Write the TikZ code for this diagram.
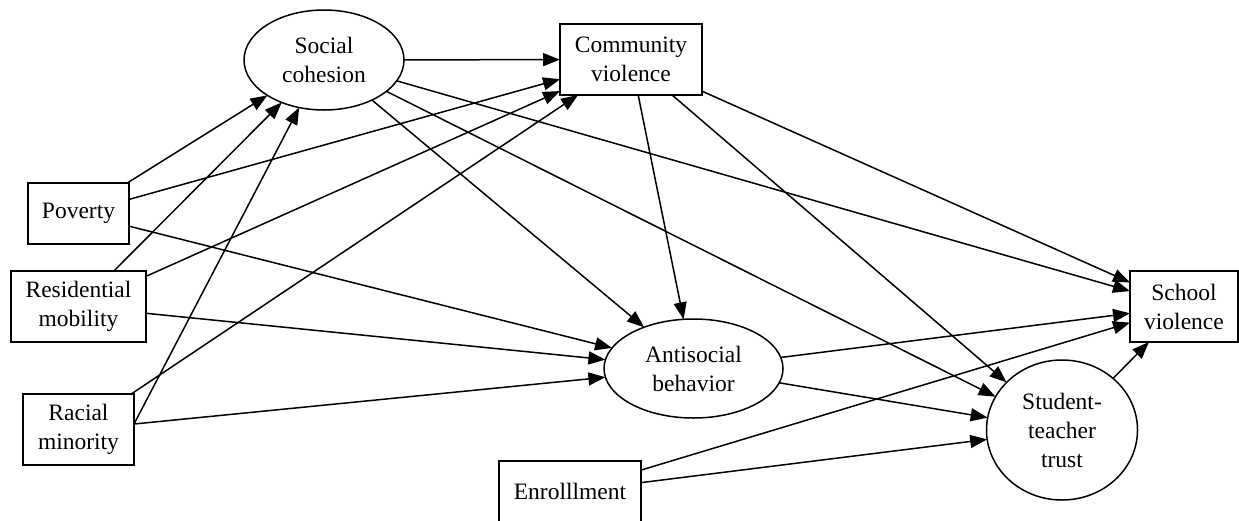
\documentclass[tikz,border=0pt]{standalone}
\usepackage{fontspec}
\setmainfont{Liberation Serif}
\usetikzlibrary{shapes.geometric,arrows.meta}
\begin{document}
\begin{tikzpicture}[x=1pt,y=-1pt,
  every node/.style={font=\fontsize{23.5}{29}\selectfont, align=center, inner sep=0pt, outer sep=0pt, line width=1.5pt},
  boxnode/.style={draw, rectangle},
  ellnode/.style={draw, ellipse},
  edge/.style={line width=1.5pt, -{Triangle[length=17pt,width=13pt]}}]
\useasboundingbox (0,0) rectangle (1239,520);
\node[ellnode, minimum width=160pt, minimum height=100pt] (sc) at (324,60) {Social\\cohesion};
\node[boxnode, minimum width=142pt, minimum height=71pt] (cv) at (631,59.5) {Community\\violence};
\node[boxnode, minimum width=101pt, minimum height=61pt] (pov) at (78.5,213.5) {Poverty};
\node[boxnode, minimum width=135pt, minimum height=71pt] (res) at (78.5,306.5) {Residential\\mobility};
\node[boxnode, minimum width=111pt, minimum height=71pt] (rac) at (78.5,429.5) {Racial\\minority};
\node[ellnode, minimum width=179pt, minimum height=99pt] (ab) at (693.5,368.5) {Antisocial\\behavior};
\node[boxnode, minimum width=108pt, minimum height=71pt] (sv) at (1184,306.5) {School\\violence};
\node[ellnode, minimum width=151pt, minimum height=140pt] (stt) at (1062,430) {Student-\\teacher\\trust};
\node[boxnode, minimum width=142pt, minimum height=61pt] (enr) at (570,491.5) {Enrolllment};
\draw[edge] (sc) -- (cv);
\draw[edge] (sc) -- (ab);
\draw[edge] (sc) -- (sv);
\draw[edge] (sc) -- (stt);
\draw[edge] (cv) -- (ab);
\draw[edge] (cv) -- (sv);
\draw[edge] (cv) -- (stt);
\draw[edge] (pov) -- (sc);
\draw[edge] (pov) -- (cv);
\draw[edge] (pov) -- (ab);
\draw[edge] (res) -- (sc);
\draw[edge] (res) -- (cv);
\draw[edge] (res) -- (ab);
\draw[edge] ([yshift=5.5pt]rac.east) -- (sc);
\draw[edge] (rac) -- (cv);
\draw[edge] (rac) -- (ab);
\draw[edge] (ab) -- (sv);
\draw[edge] (ab) -- (stt);
\draw[edge] (enr) -- (sv);
\draw[edge] (enr) -- (stt);
\draw[edge] (stt) -- (sv);
\end{tikzpicture}
\end{document}
